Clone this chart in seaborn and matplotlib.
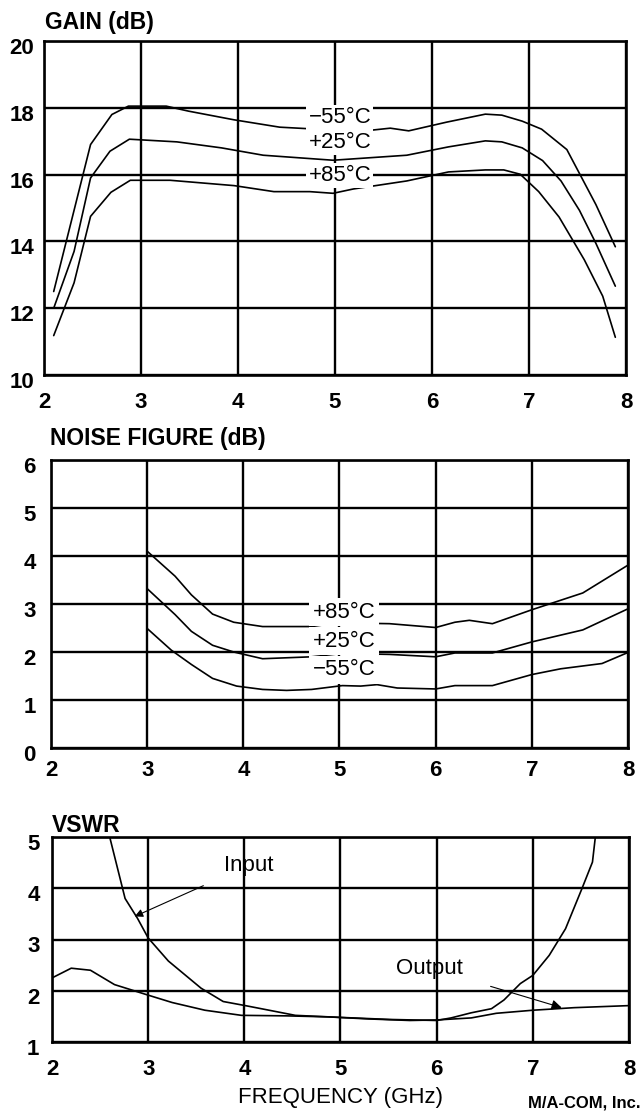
import numpy as np
import pandas as pd
import seaborn as sns
import matplotlib
matplotlib.use("Agg")
import matplotlib.pyplot as plt
from matplotlib.transforms import ScaledTranslation

# ---------------- data ----------------
gain_f_m55 = [2.1, 2.48, 2.70, 2.87, 3.26, 3.49, 3.96, 4.43, 4.94, 5.15, 5.57, 5.76, 6.15, 6.55, 6.72, 6.93, 7.13, 7.39, 7.69, 7.89]
gain_m55 = [12.5, 16.9, 17.8, 18.05, 18.05, 17.9, 17.64, 17.42, 17.34, 17.26, 17.39, 17.31, 17.57, 17.81, 17.78, 17.6, 17.36, 16.75, 15.1, 13.84]
gain_f_p25 = [2.1, 2.31, 2.48, 2.68, 2.88, 3.37, 3.83, 4.26, 4.98, 5.74, 6.17, 6.55, 6.72, 6.93, 7.14, 7.33, 7.52, 7.69, 7.89]
gain_p25 = [12.0, 13.7, 15.9, 16.7, 17.06, 16.98, 16.8, 16.58, 16.43, 16.58, 16.83, 17.01, 16.98, 16.8, 16.42, 15.81, 14.93, 13.94, 12.66]
gain_f_p85 = [2.1, 2.31, 2.48, 2.69, 2.89, 3.3, 3.96, 4.37, 4.74, 4.98, 5.19, 5.74, 6.17, 6.55, 6.74, 6.91, 7.1, 7.31, 7.57, 7.76, 7.89]
gain_p85 = [11.18, 12.76, 14.75, 15.47, 15.83, 15.83, 15.67, 15.49, 15.49, 15.44, 15.57, 15.81, 16.08, 16.14, 16.14, 16.01, 15.49, 14.73, 13.45, 12.36, 11.13]

nf_f_p85 = [3.0, 3.29, 3.46, 3.68, 3.9, 4.2, 4.71, 5.03, 5.22, 5.52, 6.0, 6.2, 6.35, 6.59, 7.0, 7.53, 8.0]
nf_p85 = [4.1, 3.58, 3.19, 2.79, 2.62, 2.53, 2.53, 2.62, 2.6, 2.59, 2.51, 2.62, 2.66, 2.59, 2.88, 3.23, 3.81]
nf_f_p25 = [3.0, 3.29, 3.46, 3.68, 3.9, 4.2, 4.71, 5.03, 5.52, 6.0, 6.2, 6.59, 7.0, 7.53, 8.0]
nf_p25 = [3.32, 2.78, 2.43, 2.14, 2.0, 1.86, 1.9, 1.97, 1.95, 1.9, 1.98, 1.98, 2.21, 2.46, 2.9]
nf_f_m55 = [3.0, 3.25, 3.46, 3.68, 3.93, 4.2, 4.45, 4.71, 5.03, 5.22, 5.39, 5.6, 6.0, 6.2, 6.59, 7.0, 7.3, 7.73, 8.0]
nf_m55 = [2.49, 2.04, 1.74, 1.45, 1.29, 1.22, 1.2, 1.22, 1.3, 1.29, 1.32, 1.25, 1.23, 1.3, 1.3, 1.53, 1.65, 1.76, 1.99]

vswr_f_in = [2.6, 2.76, 2.89, 3.0, 3.21, 3.55, 3.78, 4.01, 4.23, 4.53, 5.0, 5.51, 6.0, 6.15, 6.36, 6.57, 6.7, 6.87, 7.0, 7.17, 7.34, 7.51, 7.62, 7.65]
vswr_in = [5.0, 3.8, 3.41, 3.03, 2.58, 2.05, 1.79, 1.71, 1.63, 1.52, 1.48, 1.44, 1.42, 1.47, 1.57, 1.65, 1.82, 2.14, 2.3, 2.69, 3.21, 3.99, 4.51, 5.0]
vswr_f_out = [2.0, 2.2, 2.4, 2.65, 2.99, 3.25, 3.59, 3.97, 4.44, 4.87, 5.29, 5.72, 6.0, 6.36, 6.62, 7.0, 7.43, 8.0]
vswr_out = [2.25, 2.44, 2.4, 2.12, 1.92, 1.77, 1.62, 1.52, 1.51, 1.49, 1.45, 1.42, 1.43, 1.47, 1.56, 1.62, 1.67, 1.71]

x_ticks = [2, 3, 4, 5, 6, 7, 8]
gain_ticks = [10, 12, 14, 16, 18, 20]
nf_ticks = [0, 1, 2, 3, 4, 5, 6]
vswr_ticks = [1, 2, 3, 4, 5]
temp_labels = ["\u221255\u00b0C", "+25\u00b0C", "+85\u00b0C"]

# ---------------- style ----------------
sns.set_style("white")
plt.rcParams['font.family'] = ['Liberation Sans', 'DejaVu Sans']
plt.rcParams['axes.unicode_minus'] = True
plt.rcParams['text.color'] = 'black'
plt.rcParams['xtick.color'] = 'black'
plt.rcParams['ytick.color'] = 'black'
plt.rcParams['axes.labelcolor'] = 'black'

W, H = 644, 1113
fig = plt.figure(figsize=(W / 100, H / 100), dpi=100)


def px_axes(l, r, t, b):
    return fig.add_axes([l / W, 1 - b / H, (r - l) / W, (b - t) / H])


ax1 = px_axes(44, 626, 41, 375)
ax2 = px_axes(51, 628, 460, 748)
ax3 = px_axes(52, 629, 837, 1042)


def style_axes(ax, yticks, xpad, ypad):
    ax.set_xlim(2, 8)
    ax.set_ylim(yticks[0], yticks[-1])
    ax.set_xticks(x_ticks)
    ax.set_yticks(yticks)
    ax.set_xticklabels([str(t) for t in x_ticks])
    ax.set_yticklabels([str(t) for t in yticks])
    ax.grid(True, color='black', lw=1.7)
    ax.set_axisbelow(True)
    for s in ax.spines.values():
        s.set_color('black')
        s.set_linewidth(1.9)
        s.set_visible(True)
    ax.tick_params(axis='both', length=0, labelsize=16, labelcolor='black')
    ax.tick_params(axis='x', pad=xpad)
    ax.tick_params(axis='y', pad=ypad)
    for lab in ax.get_xticklabels() + ax.get_yticklabels():
        lab.set_fontweight('bold')
    for lab in ax.get_yticklabels():
        lab.set_transform(lab.get_transform() + ScaledTranslation(0, -5 / 100, fig.dpi_scale_trans))
    ax.set_xlabel('')
    ax.set_ylabel('')


def draw(ax, xs, ys):
    sns.lineplot(x=xs, y=ys, ax=ax, color='black', lw=1.2, sort=False,
                 estimator=None, legend=False, zorder=3)


# Gain
draw(ax1, gain_f_m55, gain_m55)
draw(ax1, gain_f_p25, gain_p25)
draw(ax1, gain_f_p85, gain_p85)
style_axes(ax1, gain_ticks, 12, 7)
for lab, yy in zip(temp_labels, [17.72, 16.95, 15.98]):
    ax1.text(5.05, yy, lab, ha='center', va='center', fontsize=16,
             bbox=dict(fc='white', ec='none', pad=1.5), zorder=4)

# Noise figure
draw(ax2, nf_f_p85, nf_p85)
draw(ax2, nf_f_p25, nf_p25)
draw(ax2, nf_f_m55, nf_m55)
style_axes(ax2, nf_ticks, 9, 11)
for lab, yy in zip(temp_labels[::-1], [2.83, 2.22, 1.63]):
    ax2.text(5.05, yy, lab, ha='center', va='center', fontsize=16,
             bbox=dict(fc='white', ec='none', pad=2.5), zorder=4)

# VSWR
draw(ax3, vswr_f_in, vswr_in)
draw(ax3, vswr_f_out, vswr_out)
style_axes(ax3, vswr_ticks, 12, 9)
ax3.annotate('Input', xy=(2.86, 3.45), xytext=(4.05, 4.45), ha='center', va='center',
             fontsize=16, zorder=5,
             arrowprops=dict(arrowstyle='-|>', color='black', lw=0.8, mutation_scale=12,
                             shrinkA=14, shrinkB=0))
ax3.annotate('Output', xy=(7.3, 1.67), xytext=(5.93, 2.44), ha='center', va='center',
             fontsize=16, zorder=5,
             arrowprops=dict(arrowstyle='-|>', color='black', lw=0.8, mutation_scale=15,
                             shrinkA=18, shrinkB=0))

# Titles
fig.text(45 / W, 1 - 22 / H, 'GAIN (dB)', fontsize=16.5, fontweight='bold', ha='left', va='center')
fig.text(50 / W, 1 - 439 / H, 'NOISE FIGURE (dB)', fontsize=16.5, fontweight='bold', ha='left', va='center')
fig.text(52 / W, 1 - 826 / H, 'VSWR', fontsize=16.5, fontweight='bold', ha='left', va='center')
fig.text(340 / W, 1 - 1097 / H, 'FREQUENCY (GHz)', fontsize=16, ha='center', va='center')
fig.text(640 / W, 1 - 1111 / H, 'M/A-COM, Inc.', fontsize=12, fontweight='bold', ha='right', va='bottom')

fig.savefig('out.png', dpi=100)
